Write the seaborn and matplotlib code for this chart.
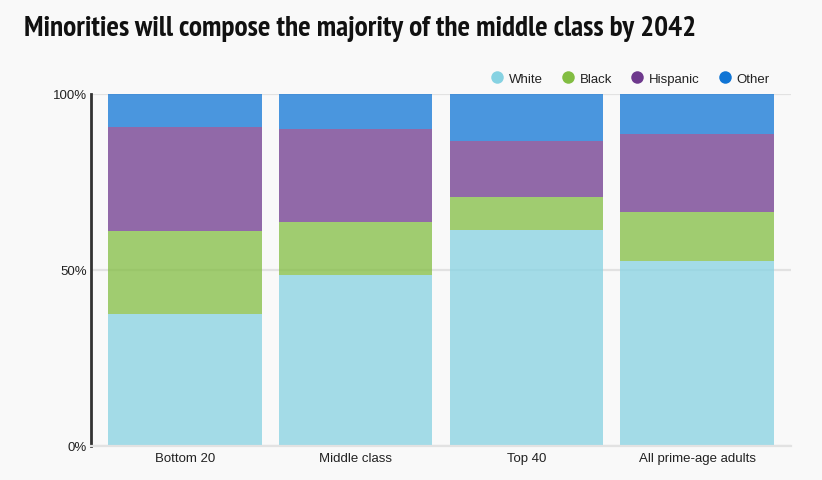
import numpy as np
import pandas as pd
import matplotlib
matplotlib.use("Agg")
import matplotlib.pyplot as plt
import seaborn as sns
from matplotlib.lines import Line2D
from matplotlib import font_manager

groups = ["Bottom 20", "Middle class", "Top 40", "All prime-age adults"]
white = [37.5, 48.5, 61.3, 52.4]
black = [23.6, 15.0, 9.3, 13.9]
hispanic = [29.4, 26.5, 15.9, 22.2]
other = [9.5, 10.0, 13.5, 11.5]

series = ["White", "Black", "Hispanic", "Other"]
colors = ["#86d2e2", "#82bd42", "#6e398d", "#1075d5"]

df = pd.DataFrame({"group": groups, "White": white, "Black": black,
                   "Hispanic": hispanic, "Other": other})

sns.set_theme(style="white")
plt.rcParams["font.family"] = ["Liberation Sans", "DejaVu Sans"]

# look for a narrow bold face for the title
title_font = None
for f in font_manager.fontManager.ttflist:
    low = f.fname.lower()
    if ("narrow" in low or "condensed" in low) and "bold" in low and "oblique" not in low and "italic" not in low:
        title_font = f.fname
        if "narrow" in low:
            break

bg = "#f9f9f9"
fig = plt.figure(figsize=(8.22, 4.81), dpi=100, facecolor=bg)
ax = fig.add_axes([0.1107, 0.0717, 0.8516, 0.7308])
ax.set_facecolor(bg)

bottom = np.zeros(len(groups))
for name, col in zip(series, colors):
    vals = df[name].to_numpy() / 100
    sns.barplot(data=df, x="group", y=df[name] / 100, color=col, alpha=0.75,
                saturation=1, width=0.9, bottom=bottom, errorbar=None, ax=ax,
                linewidth=0, zorder=2)
    bottom = bottom + vals

ax.set_ylim(0, 1)
ax.set_xlim(-0.55, 3.55)
ax.set_yticks([0, 0.5, 1])
ax.set_yticklabels(["0%", "50%", "100%"])
ax.yaxis.grid(True, color="#e2e2e2", linewidth=1.6, zorder=0)
ax.set_axisbelow(True)
ax.set_xlabel("")
ax.set_ylabel("")
ax.tick_params(axis="both", length=0, labelsize=9.5, colors="#222222")
ax.tick_params(axis="y", pad=3)
ax.tick_params(axis="x", pad=5)
for s in ["top", "right"]:
    ax.spines[s].set_visible(False)
ax.spines["bottom"].set_color("#e2e2e2")
ax.spines["bottom"].set_linewidth(1.6)
ax.spines["left"].set_color("#333333")
ax.spines["left"].set_linewidth(2)

handles = [Line2D([0], [0], marker="o", linestyle="", markersize=9,
                  markerfacecolor=c, markeredgewidth=0) for c in colors]
fig.legend(handles, series, loc="center right", bbox_to_anchor=(0.943, 0.834),
           ncol=4, frameon=False, fontsize=9.5, handletextpad=-0.1,
           columnspacing=0.9, borderaxespad=0, labelcolor="#222222")

title = "Minorities will compose the majority of the middle class by 2042"
if title_font is not None:
    fp = font_manager.FontProperties(fname=title_font, size=17)
    t = fig.text(0.029, 0.94, title, fontproperties=fp, color="#111111",
                 va="center", ha="left")
else:
    t = fig.text(0.029, 0.94, title, fontsize=17, fontweight="bold",
                 color="#111111", va="center", ha="left")

# fit the title width to the reference (~674 px)
fig.canvas.draw()
w = t.get_window_extent().width
t.set_fontsize(17 * 674 / w)

fig.savefig("out.png", dpi=100, facecolor=bg)
